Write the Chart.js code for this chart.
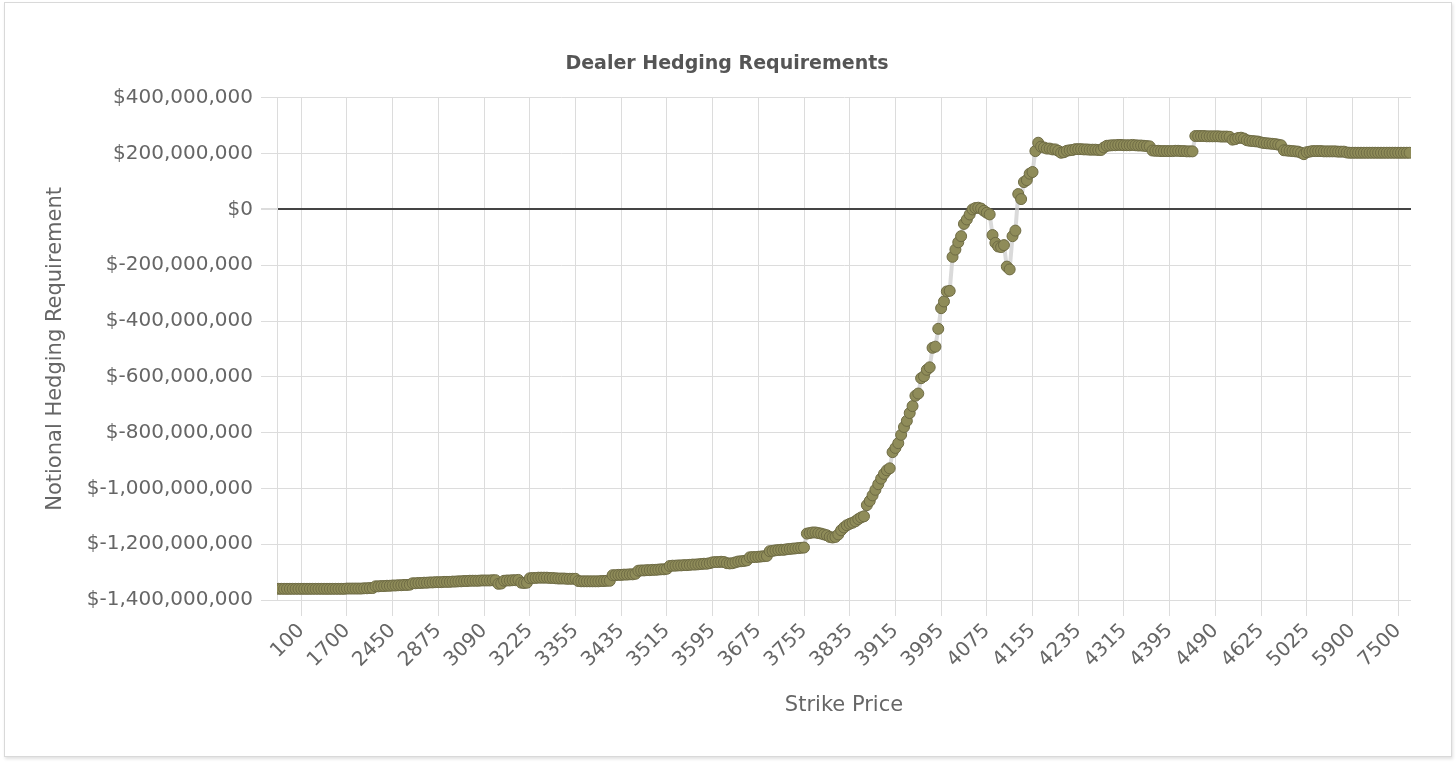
<!DOCTYPE html>
<html><head><meta charset="utf-8">
<script src="https://cdn.jsdelivr.net/npm/chart.js@4.4.0/dist/chart.umd.min.js"></script>
<style>
html,body{margin:0;padding:0;background:#fff;}
#card{position:absolute;left:4px;top:2px;width:1446px;height:753px;border:1px solid #d9d9d9;box-shadow:1px 2px 3px rgba(0,0,0,0.12);background:#fff;}
#wrap{position:absolute;left:0;top:0;width:1456px;height:767px;}
</style></head><body>
<div id="card"></div>
<div id="wrap"><canvas id="c"></canvas></div>
<script>
// Strike prices (x categories)
const strikes = [
  5,10,20,25,30,40,50,75,
  100,200,300,400,500,600,700,800,900,1000,1100,1200,1300,1400,1500,1600,1700,
  1750,1800,1850,1900,1950,2000,2050,2100,2150,2200,2250,2300,2350,2400,2425,2450,
  2500,2525,2550,2575,2600,2625,2650,2675,2700,2725,2750,2775,2800,2825,2850,2875,
  2900,2925,2950,2975,3000,3010,3020,3025,3030,3040,3050,3060,3070,3075,3080,3090,
  3095,3100,3105,3110,3115,3120,3125,3130,3140,3150,3160,3170,3175,3180,3200,3225,
  3230,3240,3250,3260,3270,3275,3280,3290,3300,3310,3320,3325,3330,3340,3350,3355,
  3360,3365,3370,3375,3380,3385,3390,3395,3400,3405,3410,3415,3420,3425,3430,3435,
  3440,3445,3450,3455,3460,3465,3470,3475,3480,3485,3490,3495,3500,3505,3510,3515,
  3520,3525,3530,3535,3540,3545,3550,3555,3560,3565,3570,3575,3580,3585,3590,3595,
  3600,3605,3610,3615,3620,3625,3630,3635,3640,3645,3650,3655,3660,3665,3670,3675,
  3680,3685,3690,3695,3700,3705,3710,3715,3720,3725,3730,3735,3740,3745,3750,3755,
  3760,3765,3770,3775,3780,3785,3790,3795,3800,3805,3810,3815,3820,3825,3830,3835,
  3840,3845,3850,3855,3860,3865,3870,3875,3880,3885,3890,3895,3900,3905,3910,3915,
  3920,3925,3930,3935,3940,3945,3950,3955,3960,3965,3970,3975,3980,3985,3990,3995,
  4000,4005,4010,4015,4020,4025,4030,4035,4040,4045,4050,4055,4060,4065,4070,4075,
  4080,4085,4090,4095,4100,4105,4110,4115,4120,4125,4130,4135,4140,4145,4150,4155,
  4160,4165,4170,4175,4180,4185,4190,4195,4200,4205,4210,4215,4220,4225,4230,4235,
  4240,4245,4250,4255,4260,4265,4270,4275,4280,4285,4290,4295,4300,4305,4310,4315,
  4320,4325,4330,4335,4340,4345,4350,4355,4360,4365,4370,4375,4380,4385,4390,4395,
  4400,4405,4410,4415,4420,4425,4430,4435,4440,4445,4450,4460,4470,4475,4480,4490,
  4500,4510,4520,4525,4530,4540,4550,4560,4570,4575,4580,4590,4600,4610,4620,4625,
  4650,4675,4700,4725,4750,4775,4800,4825,4850,4875,4900,4925,4950,4975,5000,5025,
  5050,5100,5150,5200,5250,5300,5350,5400,5450,5500,5600,5700,5750,5800,5850,5900,
  6000,6100,6200,6300,6400,6500,6600,6700,6800,6900,7000,7100,7200,7300,7400,7500,
  8000,8500,9000,10000
];

// Notional hedging requirement, in millions of dollars
const hedgeMillions = [
  -1360,-1360,-1360,-1360,-1360,-1360,-1360,-1360,-1360,-1360,
  -1360,-1360,-1360,-1360,-1360,-1360,-1360,-1360,-1360,-1360,
  -1360,-1360,-1360,-1360,-1359,-1359,-1359,-1359,-1359,-1359,
  -1358,-1358,-1357,-1357,-1351,-1351,-1350,-1350,-1349,-1349,
  -1348,-1348,-1347,-1347,-1346,-1346,-1345,-1340,-1340,-1339,
  -1339,-1338,-1338,-1337,-1337,-1336,-1336,-1336,-1335,-1335,
  -1335,-1334,-1334,-1333,-1333,-1332,-1332,-1331,-1331,-1331,
  -1331,-1330,-1330,-1330,-1330,-1329,-1329,-1342,-1341,-1331,
  -1330,-1330,-1329,-1329,-1328,-1338,-1339,-1338,-1322,-1321,
  -1321,-1320,-1320,-1320,-1320,-1321,-1321,-1322,-1323,-1323,
  -1323,-1324,-1324,-1324,-1324,-1332,-1333,-1333,-1333,-1333,
  -1333,-1333,-1333,-1332,-1332,-1331,-1331,-1311,-1311,-1310,
  -1310,-1309,-1309,-1308,-1308,-1306,-1295,-1294,-1294,-1293,
  -1293,-1292,-1292,-1291,-1290,-1290,-1288,-1278,-1277,-1277,
  -1276,-1276,-1275,-1275,-1274,-1273,-1273,-1272,-1271,-1270,
  -1270,-1268,-1265,-1264,-1264,-1263,-1264,-1268,-1269,-1268,
  -1265,-1262,-1261,-1260,-1258,-1247,-1246,-1246,-1245,-1244,
  -1243,-1242,-1225,-1224,-1222,-1221,-1220,-1220,-1218,-1217,
  -1216,-1215,-1214,-1213,-1212,-1162,-1160,-1158,-1158,-1160,
  -1162,-1165,-1168,-1174,-1176,-1174,-1165,-1150,-1140,-1132,
  -1127,-1123,-1118,-1110,-1104,-1100,-1060,-1045,-1025,-1005,
  -985,-965,-948,-935,-928,-870,-855,-838,-808,-780,
  -758,-730,-705,-668,-660,-605,-598,-575,-566,-496,
  -492,-428,-354,-330,-294,-292,-170,-144,-118,-96,
  -52,-36,-18,0,5,6,3,-5,-12,-18,
  -92,-120,-133,-135,-128,-205,-215,-96,-76,55,
  37,98,105,128,134,209,239,225,222,218,
  218,215,215,210,203,205,210,212,213,216,
  216,216,215,215,214,214,214,213,213,222,
  228,229,230,230,231,231,230,230,230,231,
  230,229,229,228,227,226,211,210,210,209,
  209,209,209,209,210,210,209,209,208,208,
  208,263,263,263,263,262,262,262,262,262,
  261,261,261,260,250,252,256,257,254,248,
  246,245,244,243,240,238,237,236,235,234,
  232,230,212,211,210,209,208,207,203,198,
  205,207,209,209,209,209,208,208,208,208,
  208,207,207,207,204,203,203,203,203,203,
  203,203,203,203,203,203,203,203,203,203,
  203,203,203,203,203,203,203
];

// Strike labels shown on the x axis
const tickLabels = [100,1700,2450,2875,3090,3225,3355,3435,3515,3595,3675,3755,3835,3915,3995,4075,4155,4235,4315,4395,4490,4625,5025,5900,7500];

const chartTitle = 'Dealer Hedging Requirements';
const xTitle = 'Strike Price';
const yTitle = 'Notional Hedging Requirement';

Chart.defaults.font.family = "'DejaVu Sans', sans-serif";

new Chart(document.getElementById('c'), {
  type: 'line',
  data: {
    labels: strikes.map(String),
    datasets: [{
      data: hedgeMillions,
      borderColor: 'rgba(205,205,205,0.75)',
      borderWidth: 4,
      tension: 0,
      pointRadius: 5.5,
      pointHoverRadius: 5.5,
      pointBackgroundColor: '#8f8c59',
      pointBorderColor: '#6e6b44',
      pointBorderWidth: 1,
      clip: 0
    }]
  },
  options: {
    responsive: true,
    maintainAspectRatio: false,
    animation: false,
    layout: { padding: { left: 43, right: 45, top: 53, bottom: 45 } },
    plugins: {
      legend: { display: false },
      tooltip: { enabled: false },
      title: {
        display: true, text: chartTitle, color: '#555',
        font: { size: 19, weight: 'bold' },
        padding: { top: 0, bottom: 22 }
      }
    },
    scales: {
      x: {
        offset: true,
        grid: { color: '#dcdcdc', tickLength: 16, tickColor: '#dcdcdc' },
        border: { display: false },
        ticks: { autoSkip: false, minRotation: 45, maxRotation: 45, color: '#666', font: { size: 20 }, padding: 3 },
        afterBuildTicks: (axis) => {
          axis.ticks = axis.ticks.filter(t => tickLabels.includes(strikes[t.value]));
        },
        afterFit: (s) => { s.height = 122; },
        title: { display: true, text: xTitle, color: '#666', font: { size: 21 }, padding: { top: 4, bottom: 4 } }
      },
      y: {
        min: -1400, max: 400,
        ticks: {
          stepSize: 200, color: '#666', font: { size: 20 }, padding: 8,
          callback: v => '$' + (v * 1e6).toLocaleString('en-US')
        },
        grid: {
          color: c => (c.tick && c.tick.value === 0) ? '#444' : '#dcdcdc',
          lineWidth: c => (c.tick && c.tick.value === 0) ? 2 : 1,
          tickLength: 16, tickColor: '#dcdcdc'
        },
        border: { display: true, color: '#dcdcdc' },
        afterFit: (s) => { s.width = 234; },
        title: { display: true, text: yTitle, color: '#666', font: { size: 21 }, padding: { top: 0, bottom: 0 } }
      }
    }
  }
});
</script>
</body></html>
